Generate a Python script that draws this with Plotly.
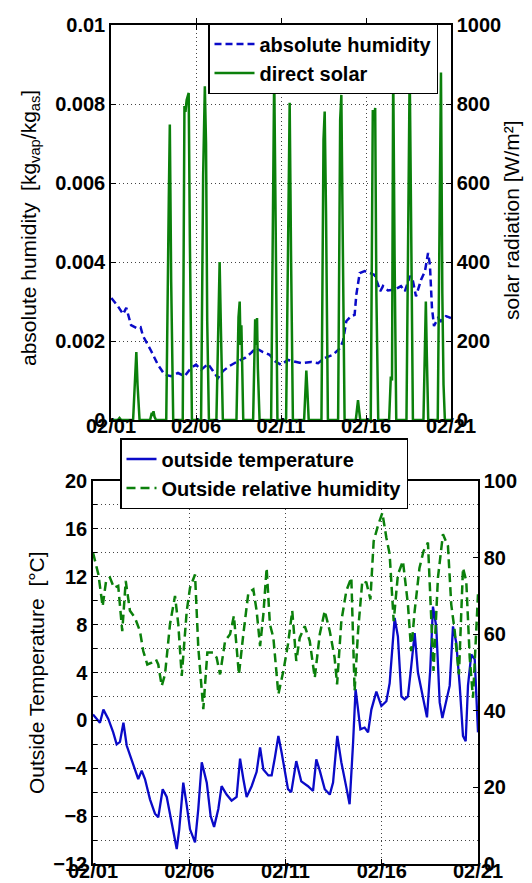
import plotly.graph_objects as go

# ---------------- data ----------------
date_ticks = [1, 6, 11, 16, 21]
date_labels = ["02/01", "02/06", "02/11", "02/16", "02/21"]

# top panel: absolute humidity (kg_vap/kg_as) vs day of February
hum_day = [1.02, 1.41, 1.71, 1.90, 2.18, 2.49, 2.74, 2.88, 3.37, 3.76, 4.15, 4.53, 4.94,
           5.33, 5.71, 6.00, 6.30, 6.71, 7.00, 7.29, 7.59, 7.98, 8.47, 8.88, 9.24, 9.53,
           9.94, 10.33, 10.63, 11.00, 11.41, 11.80, 12.18, 12.76, 13.18, 13.57, 14.06,
           14.47, 14.65, 14.84, 15.12, 15.33, 15.43, 15.63, 15.92, 16.24, 16.51, 16.84,
           17.00, 17.29, 17.69, 18.06, 18.29, 18.59, 18.76, 18.94, 19.24, 19.47, 19.65,
           19.76, 19.88, 20.00, 20.24, 20.41, 20.71, 21.00]
abs_hum = [0.00309, 0.00288, 0.00268, 0.00284, 0.00240, 0.00233, 0.00235, 0.00213, 0.00174,
           0.00140, 0.00115, 0.00111, 0.00119, 0.00111, 0.00132, 0.00140, 0.00127, 0.00142,
           0.00124, 0.00106, 0.00124, 0.00137, 0.00149, 0.00157, 0.00170, 0.00182, 0.00172,
           0.00165, 0.00149, 0.00140, 0.00152, 0.00147, 0.00144, 0.00147, 0.00144, 0.00157,
           0.00165, 0.00182, 0.00200, 0.00250, 0.00263, 0.00266, 0.00317, 0.00372, 0.00377,
           0.00372, 0.00367, 0.00326, 0.00339, 0.00328, 0.00330, 0.00339, 0.00326, 0.00365,
           0.00352, 0.00313, 0.00355, 0.00377, 0.00423, 0.00393, 0.00284, 0.00238, 0.00258,
           0.00250, 0.00263, 0.00258]

# top panel: direct solar radiation (W/m2)
solar_day = [1.00, 1.40, 1.50, 1.60,
             2.30, 2.42, 2.49, 2.56, 2.68,
             3.30, 3.40, 3.45, 3.50, 3.56, 3.65,
             4.25, 4.36, 4.40, 4.46, 4.54, 4.66,
             5.22, 5.32, 5.38, 5.45, 5.51, 5.57, 5.64, 5.76,
             6.30, 6.42, 6.52, 6.59, 6.66, 6.76,
             7.20, 7.31, 7.39, 7.47, 7.58,
             8.38, 8.50, 8.57, 8.62, 8.67, 8.78,
             9.36, 9.48, 9.54, 9.59, 9.64, 9.74,
             10.42, 10.53, 10.60, 10.68, 10.79,
             11.30, 11.43, 11.51, 11.59, 11.70,
             12.36, 12.44, 12.49, 12.55, 12.63,
             13.38, 13.50, 13.57, 13.65, 13.76,
             14.36, 14.48, 14.55, 14.63, 14.74,
             15.40, 15.48, 15.53, 15.58, 15.66,
             16.28, 16.40, 16.47, 16.54, 16.61, 16.72,
             17.36, 17.46, 17.53, 17.60, 17.68, 17.78,
             18.38, 18.50, 18.57, 18.65, 18.76,
             19.38, 19.46, 19.52, 19.58, 19.66,
             20.22, 20.34, 20.41, 20.49, 20.56, 20.64, 21.00]
solar = [0, 0, 5, 0,
         0, 100, 172, 90, 0,
         0, 18, 10, 22, 8, 0,
         0, 530, 560, 748, 350, 0,
         0, 795, 780, 810, 820, 828, 450, 0,
         0, 620, 845, 700, 250, 0,
         0, 280, 400, 220, 0,
         0, 260, 300, 190, 240, 0,
         0, 255, 190, 258, 130, 0,
         0, 680, 880, 520, 0,
         0, 520, 803, 420, 0,
         0, 70, 125, 75, 0,
         0, 710, 781, 520, 0,
         0, 760, 823, 470, 0,
         0, 25, 50, 30, 0,
         0, 785, 760, 790, 320, 0,
         0, 110, 100, 890, 420, 0,
         0, 620, 890, 520, 0,
         0, 210, 300, 160, 0,
         0, 620, 880, 320, 90, 0, 0]

# bottom panel: outside temperature (deg C)
temp_day = [1.00, 1.36, 1.54, 1.80, 2.05, 2.23, 2.40, 2.58, 2.75, 2.92, 3.18, 3.35, 3.53,
            3.70, 3.96, 4.22, 4.39, 4.62, 4.83, 5.09, 5.35, 5.48, 5.69, 5.87, 6.04, 6.30,
            6.47, 6.65, 6.91, 7.11, 7.29, 7.51, 7.68, 7.94, 8.20, 8.46, 8.64, 8.81, 8.98,
            9.24, 9.50, 9.68, 9.85, 10.11, 10.28, 10.45, 10.63, 10.80, 11.13, 11.30, 11.56,
            11.82, 12.17, 12.43, 12.60, 12.78, 13.04, 13.30, 13.47, 13.69, 13.90, 14.16,
            14.33, 14.51, 14.64, 14.77, 14.89, 15.11, 15.29, 15.46, 15.72, 15.98, 16.24,
            16.41, 16.67, 16.84, 17.02, 17.19, 17.36, 17.53, 17.71, 17.88, 18.14, 18.35,
            18.52, 18.66, 18.83, 19.01, 19.15, 19.35, 19.53, 19.70, 19.87, 20.05, 20.22,
            20.36, 20.48, 20.65, 20.83, 21.00]
temp = [0.5, -0.2, 0.9, 0.1, -1.0, -2.0, -1.8, -0.2, -2.1, -2.9, -4.1, -4.9, -4.2,
        -4.9, -6.6, -7.8, -8.1, -5.75, -6.4, -8.5, -10.75, -9.1, -5.2, -7.1, -9.1, -10.2,
        -7.4, -3.5, -5.2, -8.0, -8.9, -7.4, -5.5, -6.2, -6.7, -6.4, -3.2, -4.9, -6.4,
        -5.5, -4.3, -2.25, -4.1, -4.6, -4.6, -3.1, -1.3, -2.7, -5.75, -6.0, -3.4,
        -5.1, -5.5, -5.9, -3.25, -4.2, -5.75, -6.2, -5.2, -1.3, -3.5, -5.6,
        -7.0, -1.9, 2.6, 0.9, -0.75, -0.6, -1.0, 0.9, 2.4, 1.2, 1.6,
        3.1, 8.55, 7.0, 2.0, 1.75, 2.0, 4.5, 7.3, 4.0, 2.0, 0.25,
        4.25, 9.5, 7.85, 1.5, 0.2, 1.75, 2.9, 7.85, 6.5, 2.9, -1.3,
        -1.75, 2.9, 5.5, 5.1, -1.0]

# bottom panel: outside relative humidity (%)
rh_day = [1.00, 1.28, 1.50, 1.68, 1.88, 2.09, 2.31, 2.52, 2.70, 2.92, 3.18, 3.44, 3.61,
          3.82, 4.05, 4.27, 4.39, 4.57, 4.74, 5.00, 5.26, 5.43, 5.61, 5.87, 6.04, 6.30,
          6.47, 6.73, 6.94, 7.25, 7.42, 7.60, 7.86, 8.12, 8.32, 8.58, 8.81, 9.07, 9.33,
          9.50, 9.68, 9.85, 10.02, 10.19, 10.37, 10.63, 10.89, 11.13, 11.35, 11.56, 11.74,
          12.00, 12.26, 12.52, 12.78, 13.04, 13.30, 13.55, 13.68, 13.90, 14.16, 14.42,
          14.59, 14.77, 14.99, 15.20, 15.41, 15.58, 15.80, 16.03, 16.24, 16.41, 16.62,
          16.84, 17.10, 17.36, 17.53, 17.71, 17.96, 18.17, 18.40, 18.57, 18.69, 18.92,
          19.18, 19.44, 19.61, 19.79, 20.01, 20.22, 20.39, 20.57, 20.74, 21.00]
rh = [81.3, 75.6, 67.3, 73.9, 74.8, 72.1, 72.6, 60.8, 73.9, 66.1, 64.3, 60.8, 55.6,
      52.1, 52.6, 53.4, 52.1, 46.5, 49.5, 62.6, 70.0, 62.6, 49.1, 66.1, 72.1, 75.6,
      56.5, 40.4, 55.2, 55.2, 53.9, 49.5, 58.2, 60.0, 64.8, 49.5, 60.0, 70.8, 71.7,
      66.1, 56.9, 65.2, 77.3, 62.6, 59.1, 44.3, 50.4, 57.4, 66.1, 53.0, 59.1,
      62.1, 58.2, 48.6, 60.0, 66.1, 60.8, 53.9, 46.9, 63.4, 71.3, 74.8,
      45.2, 60.8, 73.9, 73.5, 69.1, 84.3, 88.3, 91.7, 85.2, 80.9, 63.4,
      75.6, 79.1, 67.8, 55.6, 66.1, 77.3, 81.7, 83.9, 64.3, 50.4, 74.8,
      86.1, 83.0, 67.8, 60.8, 49.5, 77.3, 73.9, 53.9, 43.4, 70.4]

top_left_ticks = [0, 0.002, 0.004, 0.006, 0.008, 0.01]
top_left_labels = ["0", "0.002", "0.004", "0.006", "0.008", "0.01"]
top_right_ticks = [0, 200, 400, 600, 800, 1000]
bot_left_ticks = [-12, -8, -4, 0, 4, 8, 12, 16, 20]
bot_left_minor = [-10, -6, -2, 2, 6, 10, 14, 18]
bot_right_ticks = [0, 20, 40, 60, 80, 100]

# ---------------- styling ----------------
W, H = 532, 883
FONT = "Liberation Sans, Arial, sans-serif"
BLUE = "#0a0ac8"
GREEN = "#0b800b"
GRID = "#444444"


def px_x(p):
    return p / W


def px_y(p):
    return 1 - p / H


tickfont = dict(family=FONT, size=20, color="black", weight="bold")
common_x = dict(range=[1, 21], tickmode="array", tickvals=date_ticks, ticktext=date_labels,
                showgrid=True, gridcolor=GRID, griddash="1px,3px", gridwidth=1,
                showline=True, linecolor="black", linewidth=1.5, mirror="allticks",
                ticks="inside", ticklen=5, tickcolor="black", tickfont=tickfont,
                zeroline=False, automargin=False)
common_y = dict(showline=True, linecolor="black", linewidth=1.5, ticks="inside",
                ticklen=5, tickcolor="black", tickfont=tickfont, zeroline=False,
                automargin=False)

fig = go.Figure()
fig.add_trace(go.Scatter(x=hum_day, y=abs_hum, mode="lines", name="absolute humidity",
                         line=dict(color=BLUE, width=2.5, dash="7px,4px"),
                         xaxis="x", yaxis="y", legend="legend"))
fig.add_trace(go.Scatter(x=solar_day, y=solar, mode="lines", name="direct solar",
                         line=dict(color=GREEN, width=2.5),
                         xaxis="x", yaxis="y2", legend="legend"))
fig.add_trace(go.Scatter(x=temp_day, y=temp, mode="lines", name="outside temperature",
                         line=dict(color=BLUE, width=2.3),
                         xaxis="x2", yaxis="y3", legend="legend2"))
fig.add_trace(go.Scatter(x=rh_day, y=rh, mode="lines", name="Outside relative humidity",
                         line=dict(color=GREEN, width=2.5, dash="9px,5px"),
                         xaxis="x2", yaxis="y4", legend="legend2"))

fig.update_layout(
    width=W, height=H, margin=dict(l=0, r=0, t=0, b=0, autoexpand=False),
    paper_bgcolor="white", plot_bgcolor="white",
    font=dict(family=FONT, color="black"),
    showlegend=True,
    xaxis=dict(domain=[px_x(103), px_x(443)], anchor="y", ticklabelstandoff=-13,
               **common_x),
    yaxis=dict(domain=[px_y(412), px_y(17)], anchor="x", range=[0, 0.01],
               tickmode="array", tickvals=top_left_ticks, ticktext=top_left_labels,
               showgrid=True, gridcolor=GRID, griddash="1px,3px", gridwidth=1,
               **common_y),
    yaxis2=dict(overlaying="y", side="right", anchor="x", range=[0, 1000],
                tickmode="array", tickvals=top_right_ticks, showgrid=False, **common_y),
    xaxis2=dict(domain=[px_x(85), px_x(470)], anchor="y3", ticklabelstandoff=-12,
                **common_x),
    yaxis3=dict(domain=[px_y(856), px_y(473)], anchor="x2", range=[-12, 20],
                tickmode="array", tickvals=bot_left_ticks,
                showgrid=True, gridcolor=GRID, griddash="1px,3px", gridwidth=1,
                minor=dict(tickmode="array", tickvals=bot_left_minor, showgrid=True,
                           gridcolor=GRID, griddash="1px,3px", gridwidth=1,
                           ticks="inside", ticklen=4, tickcolor="black"),
                **common_y),
    yaxis4=dict(overlaying="y3", side="right", anchor="x2", range=[0, 100],
                tickmode="array", tickvals=bot_right_ticks, showgrid=False, **common_y),
    legend=dict(x=px_x(430), y=px_y(15), xanchor="right", yanchor="top",
                bgcolor="white", bordercolor="black", borderwidth=1.5,
                font=dict(family=FONT, size=20, color="black", weight="bold"),
                tracegroupgap=0, itemwidth=40),
    legend2=dict(x=px_x(112), y=px_y(430), xanchor="left", yanchor="top",
                 bgcolor="white", bordercolor="black", borderwidth=1.5,
                 font=dict(family=FONT, size=20, color="black", weight="bold"),
                 tracegroupgap=0, itemwidth=30),
)

title_font = dict(family=FONT, size=21, color="black")
fig.add_annotation(text="absolute humidity&nbsp; [kg<sub>vap</sub>/kg<sub>as</sub>]",
                   x=px_x(22), y=px_y(220), xref="paper", yref="paper", textangle=-90,
                   showarrow=False, xanchor="center", yanchor="middle", font=title_font)
fig.add_annotation(text="solar radiation [W/m²]",
                   x=px_x(504), y=px_y(212), xref="paper", yref="paper", textangle=-90,
                   showarrow=False, xanchor="center", yanchor="middle", font=title_font)
fig.add_annotation(text="Outside Temperature&nbsp; [°C]",
                   x=px_x(28), y=px_y(665), xref="paper", yref="paper", textangle=-90,
                   showarrow=False, xanchor="center", yanchor="middle", font=title_font)
fig.add_annotation(text="Outside relative humidity [%]",
                   x=px_x(524), y=px_y(662), xref="paper", yref="paper", textangle=-90,
                   showarrow=False, xanchor="center", yanchor="middle", font=title_font)

fig.write_html("out.html")
